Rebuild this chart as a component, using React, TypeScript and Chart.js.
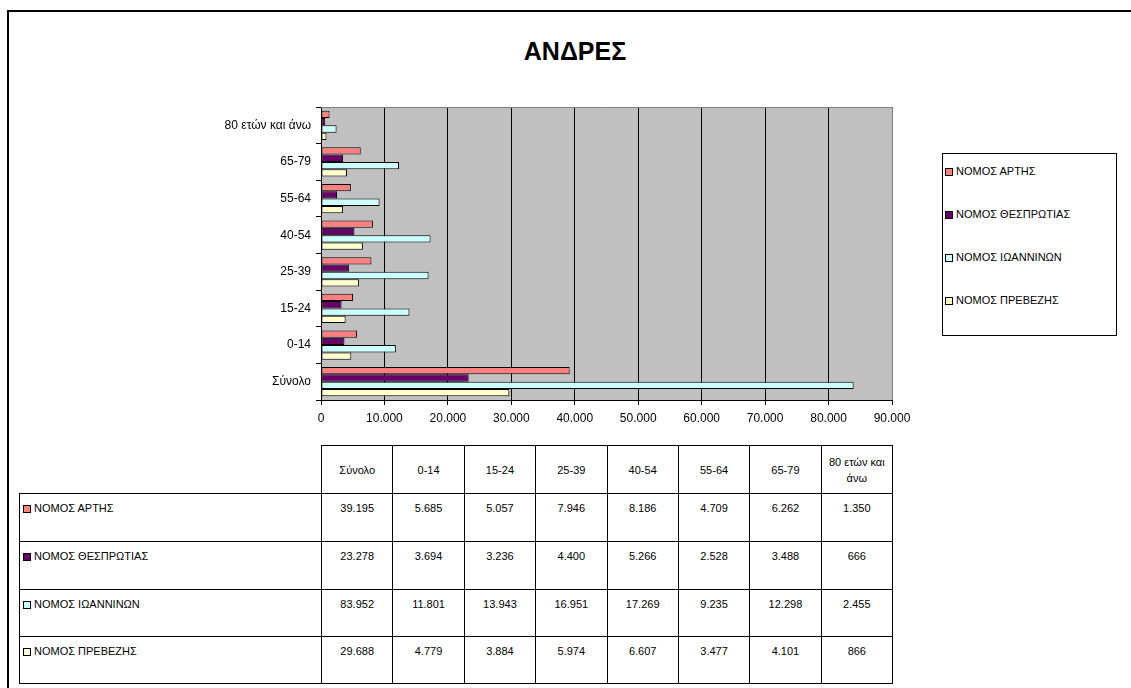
import React, { useEffect, useRef } from "react";
import { Chart, registerables } from "chart.js";

Chart.register(...registerables);

const categories = ["Σύνολο", "0-14", "15-24", "25-39", "40-54", "55-64", "65-79", "80 ετών και άνω"];
const seriesNames = ["ΝΟΜΟΣ ΑΡΤΗΣ", "ΝΟΜΟΣ ΘΕΣΠΡΩΤΙΑΣ", "ΝΟΜΟΣ ΙΩΑΝΝΙΝΩΝ", "ΝΟΜΟΣ ΠΡΕΒΕΖΗΣ"];
const arta = [39195, 5685, 5057, 7946, 8186, 4709, 6262, 1350];
const thesprotia = [23278, 3694, 3236, 4400, 5266, 2528, 3488, 666];
const ioannina = [83952, 11801, 13943, 16951, 17269, 9235, 12298, 2455];
const preveza = [29688, 4779, 3884, 5974, 6607, 3477, 4101, 866];
const seriesColors = ["#FF8080", "#660066", "#CCFFFF", "#FFFFCC"];
const xMax = 90000;
const xStep = 10000;
const titleText = "ΑΝΔΡΕΣ";

const seriesValues = [arta, thesprotia, ioannina, preveza];

const FONT = "'Liberation Sans', Arial, sans-serif";

function fmt(n: number): string {
  return String(n).replace(/\B(?=(\d{3})+(?!\d))/g, ".");
}

const plotBg = {
  id: "plotBg",
  beforeDraw(chart: any) {
    const { ctx, chartArea } = chart;
    ctx.save();
    ctx.fillStyle = "#C0C0C0";
    ctx.fillRect(chartArea.left, chartArea.top, chartArea.right - chartArea.left, chartArea.bottom - chartArea.top);
    ctx.restore();
  },
  afterDraw(chart: any) {
    const { ctx, chartArea } = chart;
    ctx.save();
    ctx.strokeStyle = "#808080";
    ctx.lineWidth = 1;
    ctx.beginPath();
    ctx.moveTo(chartArea.left, chartArea.top + 0.5);
    ctx.lineTo(chartArea.right + 0.5, chartArea.top + 0.5);
    ctx.lineTo(chartArea.right + 0.5, chartArea.bottom);
    ctx.stroke();
    ctx.restore();
  },
};

export default function App() {
  const canvasRef = useRef<HTMLCanvasElement | null>(null);

  useEffect(() => {
    const canvas = canvasRef.current;
    if (!canvas) return;
    const labels = [...categories].reverse();
    const chart = new Chart(canvas, {
      type: "bar",
      data: {
        labels,
        datasets: seriesNames.map((name, i) => ({
          label: name,
          data: [...seriesValues[i]].reverse(),
          backgroundColor: seriesColors[i],
          borderColor: "#000000",
          borderWidth: 1,
          borderSkipped: false,
          categoryPercentage: 0.8,
          barPercentage: 1,
        })),
      },
      options: {
        indexAxis: "y",
        responsive: false,
        animation: false,
        devicePixelRatio: 1,
        layout: { padding: { left: 0, top: 107, right: 239, bottom: 0 } },
        plugins: {
          legend: { display: false },
          title: { display: false },
          tooltip: { enabled: false },
        },
        scales: {
          x: {
            type: "linear",
            min: 0,
            max: xMax,
            ticks: {
              stepSize: xStep,
              color: "#000",
              font: { family: FONT, size: 12 },
              padding: 6,
              maxRotation: 0,
              callback: (v: any) => fmt(Number(v)),
            },
            grid: { color: "#000", lineWidth: 1, drawTicks: true, tickLength: 5, tickColor: "#000" },
            border: { display: true, color: "#000", width: 1 },
            afterFit: (scale: any) => {
              scale.height = 40;
            },
          },
          y: {
            type: "category",
            ticks: { color: "#000", font: { family: FONT, size: 12 }, padding: 5 },
            grid: { display: true, drawOnChartArea: false, drawTicks: true, tickLength: 5, tickColor: "#000", offset: true },
            border: { display: true, color: "#000", width: 1 },
            afterFit: (scale: any) => {
              scale.width = 321;
            },
          },
        },
      },
      plugins: [plotBg],
    } as any);
    return () => chart.destroy();
  }, []);

  const textStyle: React.CSSProperties = { fontFamily: FONT, fontSize: 11, color: "#000" };
  const keyStyle = (c: string): React.CSSProperties => ({
    display: "inline-block",
    width: 6,
    height: 6,
    border: "1px solid #000",
    background: c,
    marginRight: 3,
    verticalAlign: "-1px",
  });
  const cellBorder = "1px solid #000";
  const colW = 571 / categories.length;

  return (
    <div style={{ position: "absolute", left: 0, top: 0, width: 1131, height: 688, background: "#fff", overflow: "hidden" }}>
      <div style={{ position: "absolute", left: 7, top: 10, width: 1130, height: 690, borderTop: "2px solid #000", borderLeft: "2px solid #000" }} />
      <div
        style={{
          position: "absolute",
          left: 425,
          top: 36,
          width: 300,
          textAlign: "center",
          fontFamily: FONT,
          fontWeight: "bold",
          fontSize: 25,
          lineHeight: "30px",
          color: "#000",
        }}
      >
        {titleText}
      </div>
      <canvas ref={canvasRef} width={1131} height={440} style={{ position: "absolute", left: 0, top: 0, width: 1131, height: 440 }} />
      <div
        style={{
          position: "absolute",
          left: 942,
          top: 153,
          width: 173,
          height: 181,
          border: "1px solid #000",
          background: "#fff",
          ...textStyle,
        }}
      >
        {seriesNames.map((n, i) => (
          <div key={n} style={{ position: "absolute", left: 2, top: 10 + i * 43, whiteSpace: "nowrap", lineHeight: "14px" }}>
            <span style={keyStyle(seriesColors[i])} />
            {n}
          </div>
        ))}
      </div>
      <table
        style={{
          position: "absolute",
          left: 19,
          top: 445,
          borderCollapse: "collapse",
          tableLayout: "fixed",
          width: 302 + 571,
          ...textStyle,
        }}
      >
        <colgroup>
          <col style={{ width: 302 }} />
          {categories.map((c) => (
            <col key={c} style={{ width: colW }} />
          ))}
        </colgroup>
        <tbody>
          <tr style={{ height: 48 }}>
            <td style={{ border: "none", padding: 0 }} />
            {categories.map((c) => (
              <td key={c} style={{ border: cellBorder, textAlign: "center", verticalAlign: "middle", padding: "0 2px", lineHeight: "16px" }}>
                {c}
              </td>
            ))}
          </tr>
          {seriesNames.map((n, i) => (
            <tr key={n} style={{ height: i < 2 ? 48 : 47 }}>
              <td style={{ border: cellBorder, verticalAlign: "top", padding: "7px 0 0 3px", whiteSpace: "nowrap", lineHeight: "14px" }}>
                <span style={keyStyle(seriesColors[i])} />
                {n}
              </td>
              {seriesValues[i].map((v, j) => (
                <td key={j} style={{ border: cellBorder, textAlign: "center", verticalAlign: "top", padding: "7px 0 0 0", lineHeight: "14px" }}>
                  {fmt(v)}
                </td>
              ))}
            </tr>
          ))}
        </tbody>
      </table>
    </div>
  );
}
